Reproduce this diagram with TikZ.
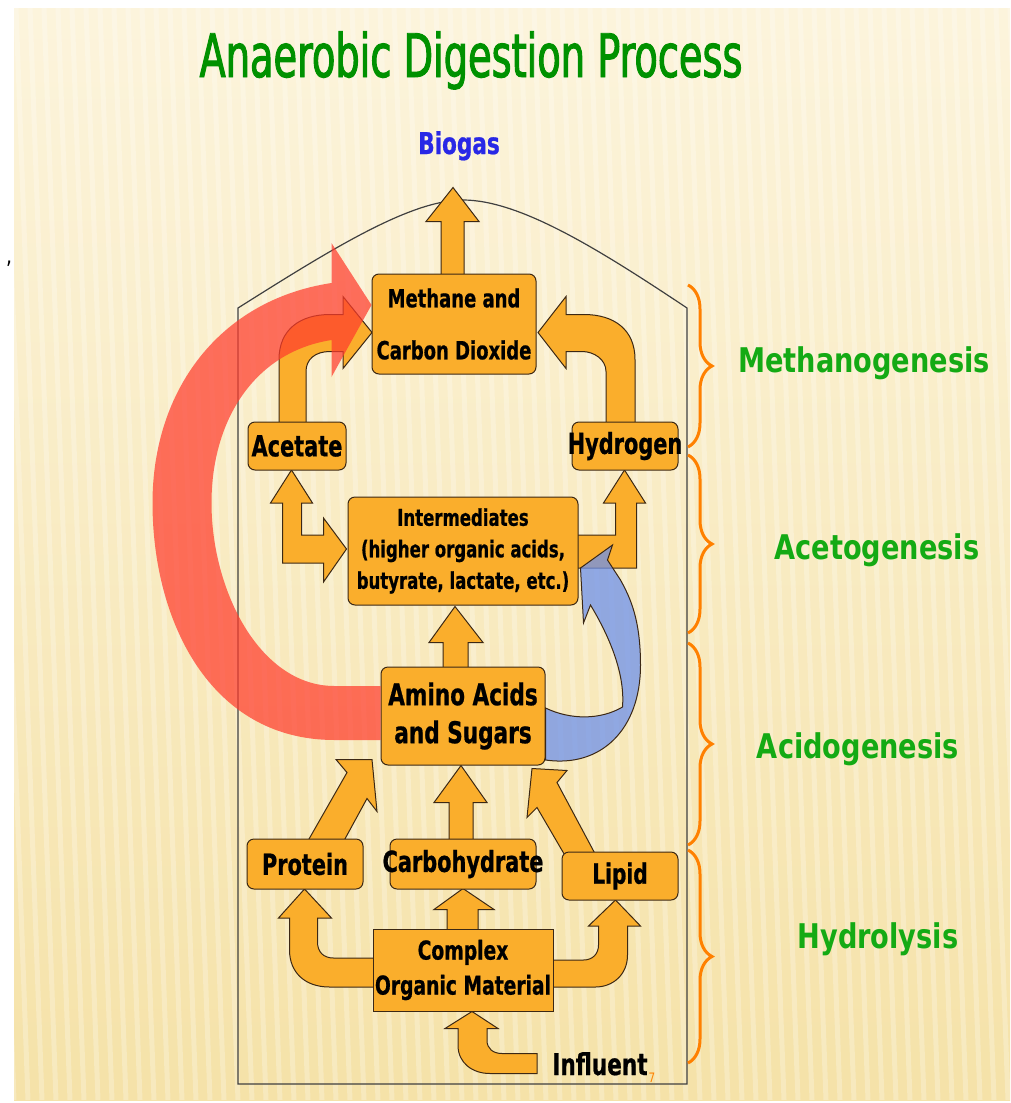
\documentclass[tikz,border=0pt]{standalone}
\usepackage{fontspec}
\usetikzlibrary{decorations.pathreplacing}
\newfontfamily\boxfont[FakeStretch=0.8, FakeBold=0.7]{DejaVu Sans Condensed}
\newfontfamily\titlefont[FakeStretch=0.71, FakeBold=1.6]{DejaVu Sans Condensed}
\newfontfamily\stagefont[FakeStretch=0.8]{DejaVu Sans}
\newcommand{\bx}[2]{\boxfont\bfseries\fontsize{#1}{#2}\selectfont}

\definecolor{boxfill}{RGB}{250,174,44}
\definecolor{edge}{RGB}{60,40,20}
\definecolor{stagegreen}{RGB}{20,170,20}
\definecolor{titlegreen}{RGB}{0,145,0}
\definecolor{biogasblue}{RGB}{40,40,230}
\definecolor{braceorange}{RGB}{255,128,0}
\definecolor{redarc}{RGB}{255,60,45}
\definecolor{bluearc}{RGB}{110,145,235}
\definecolor{creamtop}{RGB}{252,244,220}
\definecolor{creambot}{RGB}{245,226,168}

\pgfdeclarelayer{bg}
\pgfdeclarelayer{back}
\pgfsetlayers{bg,back,main}

\tikzset{
  box/.style={draw=edge, fill=boxfill, rounded corners=7pt, line width=1pt, inner sep=0pt, align=center},
  flow/.style={draw=edge, fill=boxfill, line width=1pt, line join=miter},
  stage/.style={text=stagegreen, anchor=base, font=\stagefont\bfseries\fontsize{34}{38}\selectfont},
  phase/.style={draw=braceorange, line width=3pt, decorate, decoration={brace, amplitude=24pt}},
  digester/.style={draw=black!75, line width=1.2pt},
}

\begin{document}
\begin{tikzpicture}[x=1pt,y=-1pt]
\useasboundingbox (0,0) rectangle (1010,1103);

% boxes
\node[box, minimum width=164pt, minimum height=100pt, font=\bx{25}{52}] (meth) at (454,324) {Methane and\\\makebox[0pt]{Carbon Dioxide}};
\node[box, minimum width=98pt, minimum height=48pt, font=\bx{29}{34}] (acet) at (297,446) {Acetate};
\node[box, minimum width=106pt, minimum height=48pt, font=\bx{29}{34}] (hydr) at (625,446) {\makebox[0pt]{Hydrogen}};
\node[box, minimum width=230pt, minimum height=108pt, font=\bx{23}{31.5}] (inter) at (463,551) {Intermediates\\(higher organic acids,\\butyrate, lactate, etc.)};
\node[box, minimum width=164pt, minimum height=98pt, font=\bx{30}{38}] (amino) at (463,716) {Amino Acids\\and Sugars};
\node[box, minimum width=116pt, minimum height=50pt, font=\bx{29}{34}] (prot) at (305,864) {Protein};
\node[box, minimum width=146pt, minimum height=50pt, font=\bx{29}{34}] (carb) at (463,864) {\makebox[0pt]{Carbohydrate}};
\node[box, minimum width=116pt, minimum height=48pt, font=\bx{28}{34}] (lipid) at (620,876) {Lipid};
\node[box, rounded corners=0pt, minimum width=180pt, minimum height=82pt, font=\bx{26}{35}] (comp) at (463,970) {Complex\\Organic Material};

% labels
\node[text=titlegreen, anchor=base, font=\titlefont\fontsize{60}{62}\selectfont] (title) at (471,77) {Anaerobic Digestion Process};
\node[text=biogasblue, anchor=base, font=\bx{30}{34}] (biogas) at (459,154) {Biogas};
\node[anchor=base, font=\bx{30}{34}] (influent) at (600,1075) {Influent};
\node[text=braceorange, font=\stagefont\fontsize{13}{13}\selectfont] (pgnum) at (652,1078) {7};
\node[font=\stagefont\fontsize{24}{24}\selectfont] (tick) at (9,270) {’};

\node[stage] (methano) at (864,372) {Methanogenesis};
\node[stage] (aceto) at (877,559) {Acetogenesis};
\node[stage] (acido) at (858,758) {Acidogenesis};
\node[stage] (hydro) at (878,948) {Hydrolysis};

\draw[phase] (688,285) -- (688,447);
\draw[phase] (688,455) -- (688,633);
\draw[phase] (688,643) -- (688,845);
\draw[phase] (688,850) -- (688,1063);

% background and digester
\begin{pgfonlayer}{bg}
\fill[white] (0,0) rectangle (1010,1103);
\begin{scope}
\clip (14,8) rectangle (1010,1100);
\shade[top color=creamtop, bottom color=creambot] (14,8) rectangle (1010,1100);
\foreach \sx in {-40,-26,...,1010}
  \draw[white, opacity=0.25, line width=5pt] (\sx,8) -- (\sx+40,1100);
\end{scope}
\draw[digester] (238,308) -- (238,1084) -- (687,1084) -- (687,308) .. controls (600,250) and (520,200) .. (463,200) .. controls (410,200) and (330,250) .. (238,308) -- cycle;
\end{pgfonlayer}

% block arrows
\begin{pgfonlayer}{back}
\draw[flow, shift={(meth.north)}] (-13,6) -- (-13,-52) -- (-28,-52) -- (-1,-86) -- (25,-52) -- (10,-52) -- (10,6) -- cycle;
\draw[flow, shift={(acet.north)}] (-18,6) -- (-18,-62) .. controls (-18,-92) and (3,-107) .. (33,-107) -- (46,-107) -- (46,-125) -- (75,-89) -- (46,-53) -- (46,-70) -- (33,-70) .. controls (18,-70) and (9,-62) .. (9,-50) -- (9,6) -- cycle;
\draw[flow, shift={(hydr.north)}] (10,6) -- (10,-62) .. controls (10,-92) and (-11,-107) .. (-41,-107) -- (-59,-107) -- (-59,-125) -- (-87,-89) -- (-59,-53) -- (-59,-70) -- (-43,-70) .. controls (-31,-70) and (-19,-62) .. (-19,-50) -- (-19,6) -- cycle;
\draw[flow, shift={(inter.west)}] (-65,12) -- (-65,-48) -- (-77,-48) -- (-56,-81) -- (-35,-48) -- (-46,-48) -- (-46,-16) -- (-24,-16) -- (-24,-33) -- (-1,-2) -- (-24,31) -- (-24,12) -- cycle;
\draw[flow, shift={(inter.east)}] (-8,-16) -- (37,-16) -- (37,-48) -- (25,-48) -- (46,-81) -- (67,-48) -- (58,-48) -- (58,17) -- (-8,17) -- cycle;
\draw[flow, shift={(amino.north)}] (-20,6) -- (-20,-24) -- (-34,-24) -- (-8,-60) -- (20,-24) -- (5,-24) -- (5,6) -- cycle;
\draw[flow, shift={(prot.north)}] (2,4) -- (42,-66) -- (31,-79) -- (67,-79) -- (72,-27) -- (62,-40) -- (38,4) -- cycle;
\draw[flow, shift={(carb.north)}] (-14,4) -- (-14,-36) -- (-29,-36) -- (-2,-73) -- (24,-36) -- (10,-36) -- (10,4) -- cycle;
\draw[flow, shift={(lipid.north)}] (-55,4) -- (-83,-44) -- (-93,-34) -- (-88,-83) -- (-53,-81) -- (-63,-69) -- (-24,4) -- cycle;
\draw[flow, shift={(comp.west)}] (7,-12) -- (-39,-12) .. controls (-49,-12) and (-55,-18) .. (-55,-28) -- (-55,-52) -- (-41,-52) -- (-68,-81) -- (-94,-52) -- (-83,-52) -- (-83,-20) .. controls (-83,2) and (-68,17) .. (-43,17) -- (7,17) -- cycle;
\draw[flow, shift={(comp.north)}] (-16,4) -- (-16,-19) -- (-29,-19) -- (0,-40) -- (31,-19) -- (15,-19) -- (15,4) -- cycle;
\draw[flow, shift={(comp.east)}] (-7,-10) -- (30,-10) .. controls (39,-10) and (45,-16) .. (45,-25) -- (45,-44) -- (35,-44) -- (62,-70) -- (87,-44) -- (74,-44) -- (74,-15) .. controls (74,5) and (59,17) .. (42,17) -- (-7,17) -- cycle;
\draw[flow, shift={(comp.south)}] (74,42) -- (39,42) .. controls (30,42) and (24,37) .. (24,29) -- (24,17) -- (35,17) -- (9,0) -- (-18,17) -- (-5,17) -- (-5,34) .. controls (-5,51) and (9,62) .. (27,62) -- (74,62) -- cycle;
\end{pgfonlayer}

% shortcut arcs
\fill[redarc, fill opacity=0.72, shift={(amino.west)}] (0,24) -- (-46,24) .. controls (-171,24) and (-228,-96) .. (-228,-213) .. controls (-228,-326) and (-161,-416) .. (-49,-433) -- (-49,-473) -- (-9,-411) -- (-49,-339) -- (-49,-376) .. controls (-126,-364) and (-169,-296) .. (-169,-213) .. controls (-169,-126) and (-121,-30) .. (-46,-30) -- (0,-30) -- cycle;
\draw[draw=edge, line width=1pt, fill=bluearc, fill opacity=0.75, shift={(amino.east)}] (0,-8) .. controls (25,4) and (55,4) .. (77,-9) .. controls (80,-46) and (60,-86) .. (45,-111) -- (38,-93) -- (35,-148) -- (67,-171) -- (62,-156) -- (75,-136) .. controls (85,-118) and (95,-96) .. (95,-51) .. controls (95,14) and (55,52) .. (0,44) -- cycle;
\end{tikzpicture}
\end{document}
